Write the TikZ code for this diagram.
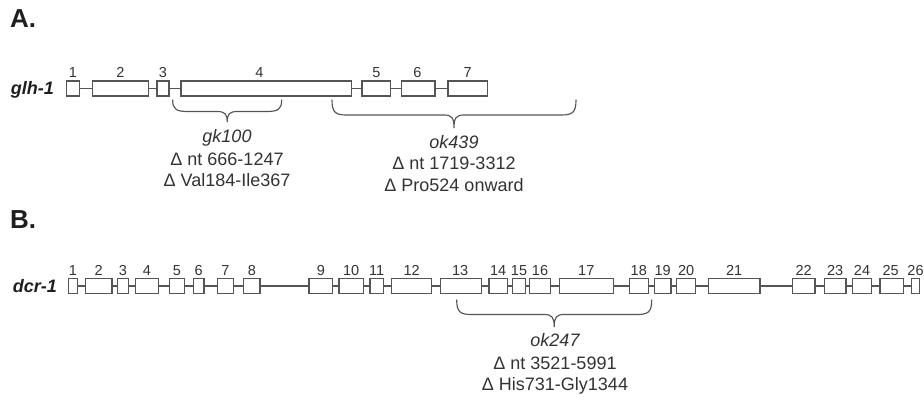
\documentclass[tikz,border=0pt]{standalone}
\usepackage{fontspec}
\setmainfont{Liberation Sans}
\definecolor{ln}{HTML}{555555}
\definecolor{tx}{HTML}{333333}
\tikzset{
  exonbox/.style={draw=ln, line width=1.15pt, fill=white, rectangle, inner sep=0pt, minimum height=15pt},
  intr/.style={draw=ln, line width=1.15pt},
  brc/.style={draw=ln, line width=1.15pt, line cap=round},
  num/.style={text=tx, font=\fontsize{14.5}{17}\selectfont, inner sep=0pt, anchor=base},
  gname/.style={text=black!88, font=\fontsize{18}{21}\selectfont\bfseries\itshape, inner sep=0pt, anchor=base east},
  panel/.style={text=black!88, font=\fontsize{26}{28}\selectfont\bfseries, inner sep=0pt, anchor=base west},
  desc/.style={text=tx, font=\fontsize{18}{21}\selectfont, inner sep=0pt, anchor=base},
  mut/.style={desc, font=\fontsize{18}{21}\selectfont\itshape}
}
% name, left, right, ycenter, label, label x offset, label baseline
\newcommand\exon[7]{%
  \node[exonbox, minimum width={(#3-#2)*1pt}] (#1) at ({(#2+#3)/2},#4) {};
  \node[num] (#1l) at ({(#2+#3)/2+#6},#7) {#5};
}
% left, right, top, horizontal, tip
\newcommand\gbrace[5]{%
  \pgfmathsetmacro\bc{(#1+#2)/2}
  \draw[brc] (#1,#3) .. controls (#1,#4-2) and (#1+4,#4) .. (#1+15,#4) -- (\bc-10,#4)
    .. controls (\bc-2,#4) and (\bc,#4+3) .. (\bc,#5)
    .. controls (\bc,#4+3) and (\bc+2,#4) .. (\bc+10,#4) -- (#2-15,#4)
    .. controls (#2-4,#4) and (#2,#4-2) .. (#2,#3);
}
\begin{document}
\begin{tikzpicture}[x=1pt,y=-1pt]
\useasboundingbox (0,0) rectangle (924,401);
\fill[white] (0,0) rectangle (924,401);

% ---------- Panel A ----------
\node[panel] (pA) at (10,28) {A.};
\node[gname] (glh) at (54,94.5) {glh-1};
\exon{a1}{66.7}{79.3}{88.5}{1}{0}{77.5}
\exon{a2}{92.3}{148.3}{88.5}{2}{0}{77.5}
\exon{a3}{157}{169}{88.5}{3}{0}{77.5}
\exon{a4}{181}{351.7}{88.5}{4}{-7}{77.5}
\exon{a5}{362}{390.7}{88.5}{5}{0}{77.5}
\exon{a6}{401.7}{435}{88.5}{6}{-1}{77.5}
\exon{a7}{448}{487.3}{88.5}{7}{0}{77.5}
\foreach \p/\q in {a1/a2,a2/a3,a3/a4,a4/a5,a5/a6,a6/a7}
  \draw[intr] (\p.east) -- (\q.west);

\gbrace{172.7}{281.7}{100}{111.5}{122}
\node[mut]  (gk)   at (227,143) {gk100};
\node[desc] (gk1)  at (227,165) {Δ nt 666-1247};
\node[desc] (gk2)  at (227,186.5) {Δ Val184-Ile367};

\gbrace{332}{576}{100}{115}{128}
\node[mut]  (ok4)  at (454,148.3) {ok439};
\node[desc] (ok41) at (454,170) {Δ nt 1719-3312};
\node[desc] (ok42) at (454,191.7) {Δ Pro524 onward};

% ---------- Panel B ----------
\node[panel] (pB) at (10,228) {B.};
\node[gname] (dcr) at (57,292) {dcr-1};
\exon{b1}{68.3}{77.3}{286}{1}{0}{275.5}
\exon{b2}{85.3}{112}{286}{2}{0}{275.5}
\exon{b3}{117.3}{128.3}{286}{3}{0}{275.5}
\exon{b4}{135.7}{158.3}{286}{4}{0}{275.5}
\exon{b5}{169.7}{184.3}{286}{5}{0}{275.5}
\exon{b6}{193.3}{204}{286}{6}{0}{275.5}
\exon{b7}{217.3}{233.3}{286}{7}{0}{275.5}
\exon{b8}{243.7}{260}{286}{8}{0}{275.5}
\exon{b9}{309}{332.7}{286}{9}{0}{275.5}
\exon{b10}{339}{363.3}{286}{10}{0}{275.5}
\exon{b11}{370}{383.3}{286}{11}{0}{275.5}
\exon{b12}{391.7}{431.7}{286}{12}{0}{275.5}
\exon{b13}{440.7}{481.7}{286}{13}{-1}{275.5}
\exon{b14}{489}{507.3}{286}{14}{0}{275.5}
\exon{b15}{512.3}{525.7}{286}{15}{0}{275.5}
\exon{b16}{529.3}{550.7}{286}{16}{0}{275.5}
\exon{b17}{559.3}{613.3}{286}{17}{0}{275.5}
\exon{b18}{629.3}{648.3}{286}{18}{0}{275.5}
\exon{b19}{654.3}{671}{286}{19}{0}{275.5}
\exon{b20}{676.7}{695.7}{286}{20}{0}{275.5}
\exon{b21}{708.3}{760}{286}{21}{0}{275.5}
\exon{b22}{792.3}{815}{286}{22}{0}{275.5}
\exon{b23}{824.3}{846}{286}{23}{0}{275.5}
\exon{b24}{852.3}{871.7}{286}{24}{0}{275.5}
\exon{b25}{880}{903.3}{286}{25}{-1}{275.5}
\exon{b26}{911.7}{919.3}{286}{26}{0}{275.5}
\foreach \p/\q in {b1/b2,b2/b3,b3/b4,b4/b5,b5/b6,b6/b7,b7/b8,b8/b9,b9/b10,b10/b11,b11/b12,b12/b13,b13/b14,b14/b15,b15/b16,b16/b17,b17/b18,b18/b19,b19/b20,b20/b21,b21/b22,b22/b23,b23/b24,b24/b25,b25/b26}
  \draw[intr] (\p.east) -- (\q.west);

\gbrace{456.7}{651.7}{300}{314.5}{327}
\node[mut]  (ok2)  at (555,346.5) {ok247};
\node[desc] (ok21) at (555,369) {Δ nt 3521-5991};
\node[desc] (ok22) at (555,390) {Δ His731-Gly1344};
\end{tikzpicture}
\end{document}
